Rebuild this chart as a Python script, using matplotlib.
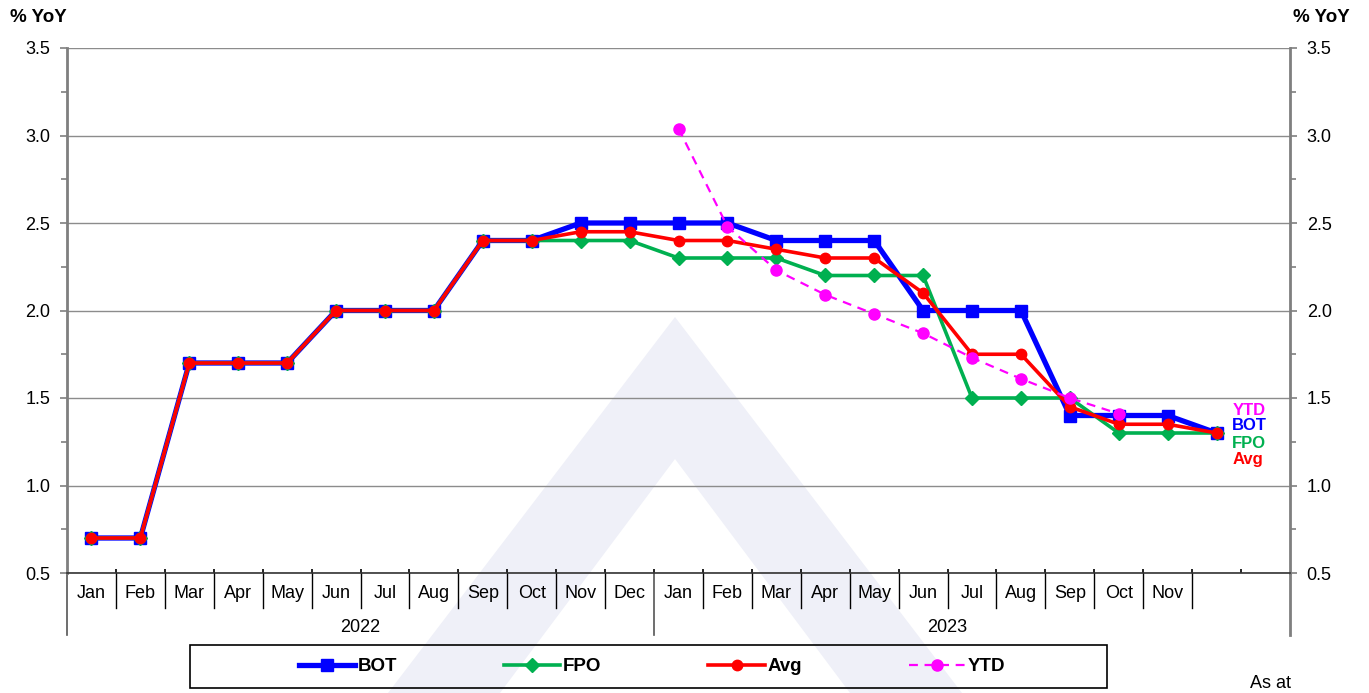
import matplotlib
matplotlib.use("Agg")
import matplotlib.pyplot as plt
from matplotlib.patches import Polygon, Rectangle
import matplotlib.transforms as mtransforms
import numpy as np

plt.rcParams['font.family'] = ['Liberation Sans', 'DejaVu Sans']

months = ["Jan", "Feb", "Mar", "Apr", "May", "Jun", "Jul", "Aug", "Sep", "Oct", "Nov", "Dec",
          "Jan", "Feb", "Mar", "Apr", "May", "Jun", "Jul", "Aug", "Sep", "Oct", "Nov", ""]
years = ["2022", "2023"]

bot = [0.7, 0.7, 1.7, 1.7, 1.7, 2.0, 2.0, 2.0, 2.4, 2.4, 2.5, 2.5,
       2.5, 2.5, 2.4, 2.4, 2.4, 2.0, 2.0, 2.0, 1.4, 1.4, 1.4, 1.3]
fpo = [0.7, 0.7, 1.7, 1.7, 1.7, 2.0, 2.0, 2.0, 2.4, 2.4, 2.4, 2.4,
       2.3, 2.3, 2.3, 2.2, 2.2, 2.2, 1.5, 1.5, 1.5, 1.3, 1.3, 1.3]
avg = [0.7, 0.7, 1.7, 1.7, 1.7, 2.0, 2.0, 2.0, 2.4, 2.4, 2.45, 2.45,
       2.4, 2.4, 2.35, 2.3, 2.3, 2.1, 1.75, 1.75, 1.45, 1.35, 1.35, 1.3]
ytd = [None] * 12 + [3.04, 2.48, 2.23, 2.09, 1.98, 1.87, 1.73, 1.61, 1.50, 1.41, None, None]

C_BOT, C_FPO, C_AVG, C_YTD = "#0000FF", "#00B050", "#FF0000", "#FF00FF"

W, H = 1369, 693
fig = plt.figure(figsize=(W / 100, H / 100), dpi=100)

def fp(x, y):
    return (x / W, 1 - y / H)

# watermark
wm = Polygon([fp(675, 317), fp(388, 693), fp(500, 693), fp(675, 459), fp(850, 693), fp(962, 693)],
             closed=True, transform=fig.transFigure, facecolor="#EFF0F8", edgecolor="none", zorder=-5)
fig.patches.append(wm)

ax = fig.add_axes([67 / W, 1 - 573 / H, (1290 - 67) / W, (573 - 48) / H])
ax.set_facecolor("none")

n = len(months) + 1
ax.set_xlim(-0.5, n - 0.5)
ax.set_ylim(0.5, 3.5)

yt = np.arange(0.5, 3.51, 0.5)
ax.set_yticks(yt)
ax.set_yticklabels([f"{v:.1f}" for v in yt])
ax.set_yticks(np.arange(0.75, 3.5, 0.5), minor=True)
ax.grid(axis="y", which="major", color="#8C8C8C", lw=1)
ax.tick_params(axis="y", which="both", left=True, right=True, labelleft=True, labelright=True,
               direction="out", color="#7F7F7F", labelsize=13, pad=7)
ax.tick_params(axis="y", which="major", length=5, width=1.2)
ax.tick_params(axis="y", which="minor", length=4, width=1.2)

xs = list(range(len(months)))
ax.set_xticks(xs)
ax.set_xticklabels(months)
ax.tick_params(axis="x", which="major", length=0, labelsize=13, pad=9)
ax.set_xticks([i - 0.5 for i in range(1, n)], minor=True)
ax.tick_params(axis="x", which="minor", direction="in", length=3, width=1.2, color="black")

for s in ["left", "right"]:
    ax.spines[s].set_color("#7F7F7F")
    ax.spines[s].set_linewidth(2)
ax.spines["top"].set_visible(False)
ax.spines["bottom"].set_color("#333333")
ax.spines["bottom"].set_linewidth(1.2)

trans = mtransforms.blended_transform_factory(ax.transData, ax.transAxes)
for i in range(1, len(months)):
    if i == 12:
        continue
    b = i - 0.5
    ax.plot([b, b], [0, -0.0667], transform=trans, color="black", lw=1, clip_on=False)
for b in [-0.5, 11.5, n - 0.5]:
    last = b == n - 0.5
    ax.plot([b, b], [0, -0.118], transform=trans, color="#7F7F7F" if last else "#555555",
            lw=2 if last else 1.2, clip_on=False)
ax.text(5.5, -0.104, years[0], transform=trans, ha="center", va="center", fontsize=13)
ax.text(17.5, -0.104, years[1], transform=trans, ha="center", va="center", fontsize=13)

ax.plot(xs, bot, color=C_BOT, lw=3.8, marker="s", ms=8.5, zorder=3, label="BOT")
ax.plot(xs, fpo, color=C_FPO, lw=2.6, marker="D", ms=7.5, zorder=4, label="FPO")
ax.plot(xs, avg, color=C_AVG, lw=2.6, marker="o", ms=7.5, zorder=5, label="Avg")
ytd_x = [x for x, v in zip(xs, ytd) if v is not None]
ytd_y = [v for v in ytd if v is not None]
ax.plot(ytd_x, ytd_y, color=C_YTD, lw=1.6, ls=(0, (4, 3)), marker="o", ms=8, zorder=6, label="YTD")

for lab, col, yv in [("YTD", C_YTD, 1.43), ("BOT", C_BOT, 1.34), ("FPO", C_FPO, 1.24), ("Avg", C_AVG, 1.15)]:
    ax.text(23.32, yv, lab, color=col, fontsize=12, fontweight="bold", ha="left", va="center")

fig.text(10 / W, 1 - 17 / H, "% YoY", fontsize=13.5, fontweight="bold", ha="left", va="center")
fig.text(1350 / W, 1 - 17 / H, "% YoY", fontsize=13.5, fontweight="bold", ha="right", va="center")
fig.text(1270 / W, 1 - 684 / H, "As at", fontsize=13, ha="center", va="center")

fig.patches.append(Rectangle(fp(190, 688), (1107 - 190) / W, 43 / H, transform=fig.transFigure,
                             facecolor="none", edgecolor="black", lw=1.2, zorder=2))
handles, labels = ax.get_legend_handles_labels()
fig.legend(handles, labels, loc="center", bbox_to_anchor=fp(652, 666.5), ncol=4, frameon=False,
           prop={"weight": "bold", "size": 13.5}, handlelength=3.0, handletextpad=0.15,
           columnspacing=5.7, numpoints=1)

fig.savefig("out.png", dpi=100)
